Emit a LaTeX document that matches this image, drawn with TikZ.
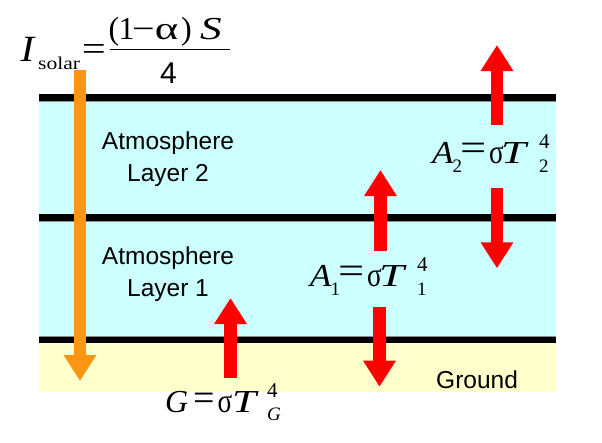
\documentclass[tikz,border=0pt]{standalone}
\usepackage{fontspec}
\setmainfont{Liberation Serif}
\newfontfamily\sansf{Liberation Sans}
\usetikzlibrary{arrows.meta}
\definecolor{skyfill}{RGB}{204,255,255}
\definecolor{sandfill}{RGB}{255,255,204}
\definecolor{sunorange}{RGB}{250,150,20}
\definecolor{heatred}{RGB}{255,0,0}
% \putg[raise]{offset}{xscale}{glyph}
\newcommand\putg[4][0pt]{\rlap{\kern#2\raisebox{#1}{\scalebox{#3}[1]{#4}}}}
\newcommand\smallfig{\fontsize{19}{19}\selectfont}
\newcommand\supfig{\fontsize{21}{21}\selectfont}
\newcommand\bigeq{\fontsize{38}{38}\selectfont =}
\newcommand\sig{\fontsize{34}{34}\selectfont σ}
% A_k = sigma T_k^4
\newcommand\aformula[1]{%
  \putg{1.8pt}{1.1}{\textit{A}}%
  \putg[-9pt]{22.5pt}{1}{\smallfig #1}%
  \putg[3pt]{30pt}{1.22}{\bigeq}%
  \putg{59pt}{0.8}{\sig}%
  \putg{71pt}{1.4}{\textit{T}}%
  \putg[15pt]{109pt}{1}{\supfig 4}%
  \putg[-9pt]{109pt}{1}{\smallfig #1}%
  \hspace*{121pt}}
\tikzset{
  lbl/.style={font=\sansf\fontsize{24.5}{29}\selectfont, inner sep=0pt, anchor=base},
  eqn/.style={font=\fontsize{32}{32}\selectfont, inner sep=0pt, anchor=base west},
  layerline/.style={line width=6.5pt, black},
  edgeline/.style={line width=0.8pt, black!45},
  beam/.style={line width=12.5pt, -{Triangle[width=31pt,length=26pt]}},
}
\begin{document}
\begin{tikzpicture}[x=1pt,y=-1pt]
\useasboundingbox (0,0) rectangle (602,442);
% regions
\fill[skyfill] (39,97.5) rectangle (555.7,340);
\fill[sandfill] (39,340) rectangle (555.7,392);
% layer boundaries
\draw[edgeline] (39,101.6) -- (555.7,101.6);
\draw[edgeline] (39,221.6) -- (555.7,221.6);
\draw[edgeline] (39,335.9) -- (555.7,335.9);
\draw[layerline] (39,97.5) -- (555.7,97.5);
\draw[layerline] (39,217.5) -- (555.7,217.5);
\draw[layerline] (39,340) -- (555.7,340);
% arrow end points
\coordinate (sunT) at (80,70);     \coordinate (sunH) at (80,381);
\coordinate (gT) at (230.5,378);   \coordinate (gH) at (230.5,298);
\coordinate (aoneuT) at (380.5,250.7); \coordinate (aoneuH) at (380.5,170);
\coordinate (aonedT) at (379.5,306.7); \coordinate (aonedH) at (379.5,386.7);
\coordinate (atwouT) at (497,125); \coordinate (atwouH) at (497,45);
\coordinate (atwodT) at (497,188.3); \coordinate (atwodH) at (497,268.3);
\draw[beam, sunorange, line width=12pt] (sunT) -- (sunH);
\draw[beam, heatred] (gT) -- (gH);
\draw[beam, heatred] (aoneuT) -- (aoneuH);
\draw[beam, heatred] (aonedT) -- (aonedH);
\draw[beam, heatred] (atwouT) -- (atwouH);
\draw[beam, heatred] (atwodT) -- (atwodH);
% layer labels
\node[lbl] (atm2a) at (168,149.3) {Atmosphere};
\node[lbl] (atm2b) at (168,181.7) {Layer 2};
\node[lbl] (atm1a) at (168,264) {Atmosphere};
\node[lbl] (atm1b) at (168,296) {Layer 1};
\node[lbl, anchor=base west] (gnd) at (436,388.3) {Ground};
% equations
\node[eqn] (atwo) at (430,163.3) {\aformula{2}};
\node[eqn] (aone) at (307.8,286) {\aformula{1}};
\node[eqn] (gform) at (167.5,412.5) {%
  \putg{-2.5pt}{1.0}{\textit{G}}%
  \putg[2pt]{26pt}{1.0}{\bigeq}%
  \putg{50pt}{0.8}{\sig}%
  \putg{64.5pt}{1.35}{\textit{T}}%
  \putg[15pt]{99.5pt}{1}{\supfig 4}%
  \putg[-8pt]{99.5pt}{1}{\smallfig\textit{G}}%
  \hspace*{116pt}};
% solar input
\node[anchor=base west, inner sep=0pt, font=\fontsize{37}{37}\selectfont] (isol) at (20,61.7) {%
  \putg{0.5pt}{1.1}{\textit{I}}%
  \putg[-7.3pt]{18pt}{1.2}{\fontsize{18}{18}\selectfont solar}%
  \putg[1.2pt]{61.8pt}{1.2}{\fontsize{35}{35}\selectfont =}%
  \hspace*{86pt}};
\node[anchor=base west, inner sep=0pt, font=\fontsize{32}{32}\selectfont] (numer) at (110,39) {%
  \putg{-1.6pt}{1.0}{(}%
  \putg{8.5pt}{1.0}{1}%
  \putg{21.8pt}{1.25}{−}%
  \putg{44.6pt}{1.4}{α}%
  \putg{71pt}{1.0}{)}%
  \putg{90pt}{1.35}{\textit{S}}%
  \hspace*{115pt}};
\draw[line width=1.3pt] (110,49.3) -- (230,49.3);
\node[anchor=base, inner sep=0pt, font=\sansf\fontsize{30}{30}\selectfont] (denom) at (168.5,83.3) {4};
\end{tikzpicture}
\end{document}
